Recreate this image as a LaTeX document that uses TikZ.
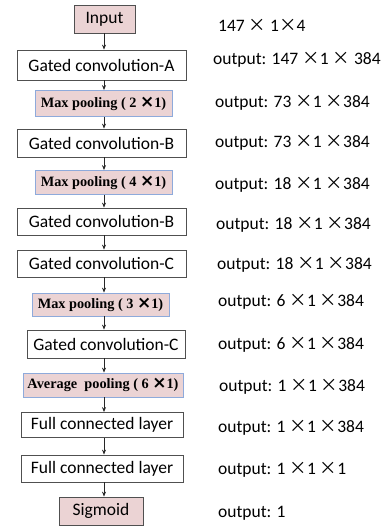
\documentclass[tikz,border=0pt]{standalone}
\usepackage{fontspec}
\setmainfont{Carlito}
\newfontfamily\tnr{Liberation Serif}
\newfontfamily\cjkx{Noto Sans CJK SC}
\newfontfamily\djv{DejaVu Sans}
\usetikzlibrary{arrows.meta}
\definecolor{pinkfill}{HTML}{EBD3D4}
\definecolor{blueedge}{HTML}{8EAADB}
\definecolor{grayedge}{HTML}{505050}
\newcommand{\tx}{{\cjkx ×}}
\newcommand{\bx}{{\djv\bfseries\fontsize{17}{17}\selectfont ×}}
\begin{document}
\begin{tikzpicture}[x=1pt,y=-1pt,
  box/.style={draw=grayedge,line width=0.8pt,fill=white,inner sep=0pt,font=\fontsize{17.5}{20}\selectfont},
  pinkbox/.style={box,fill=pinkfill},
  poolbox/.style={draw=blueedge,line width=0.8pt,fill=pinkfill,inner sep=0pt,font=\tnr\bfseries\fontsize{14.3}{16}\selectfont},
  lab/.style={anchor=west,inner sep=0pt,font=\fontsize{17.5}{20}\selectfont},
  arr/.style={-{Stealth[length=5pt,width=4pt]},line width=0.7pt,draw=black!85}]
\useasboundingbox (0,0) rectangle (385,526);
\coordinate (ax) at (104,0);
% boxes: center x, center y, width, height
\node[pinkbox,minimum width=61pt,minimum height=28pt] (in) at (104.5,19) {Input};
\node[box,minimum width=169pt,minimum height=30pt] (gA) at (101.5,65) {Gated convolution-A};
\node[poolbox,minimum width=137pt,minimum height=26pt] (mp1) at (103.5,103.5) {Max pooling ( 2 \bx1)};
\node[box,minimum width=169pt,minimum height=28pt] (gB1) at (101.5,143) {Gated convolution-B};
\node[poolbox,minimum width=137pt,minimum height=24pt] (mp2) at (103.5,182.5) {Max pooling ( 4 \bx1)};
\node[box,minimum width=169pt,minimum height=27pt] (gB2) at (101.5,221.5) {Gated convolution-B};
\node[box,minimum width=169pt,minimum height=27pt] (gC1) at (101.5,263.5) {Gated convolution-C};
\node[poolbox,minimum width=137pt,minimum height=23pt] (mp3) at (100.5,304.5) {Max pooling ( 3 \bx1)};
\node[box,minimum width=158pt,minimum height=28pt] (gC2) at (106,344) {Gated convolution-C};
\node[poolbox,minimum width=160pt,minimum height=24pt] (ap) at (103,385) {Average\ \ pooling ( 6 \bx1)};
\node[box,minimum width=162pt,minimum height=25pt] (fc1) at (102,425) {Full connected layer};
\node[box,minimum width=162pt,minimum height=27pt] (fc2) at (102,468.5) {Full connected layer};
\node[pinkbox,minimum width=84pt,minimum height=28pt] (sig) at (101,511) {Sigmoid};
% arrows
\foreach \a/\b in {in/gA,gA/mp1,mp1/gB1,gB1/mp2,mp2/gB2,gB2/gC1,gC1/mp3,mp3/gC2,gC2/ap,ap/fc1,fc1/fc2,fc2/sig}
  \draw[arr] (\a.south -| ax) -- (\b.north -| ax);
% labels
\node[lab] (t0) at (218,25) {147 \tx{} 1\tx4};
\node[lab] (t1) at (213,60) {output: 147 \tx1 \tx{} 384};
\node[lab] (t2) at (215,103) {output: 73 \tx1 \tx384};
\node[lab] (t3) at (215,143) {output: 73 \tx1 \tx384};
\node[lab] (t4) at (215,185) {output: 18 \tx1 \tx384};
\node[lab] (t5) at (216,225) {output: 18 \tx1 \tx384};
\node[lab] (t6) at (217,265) {output: 18 \tx1 \tx384};
\node[lab] (t7) at (218,302) {output: 6 \tx1 \tx384};
\node[lab] (t8) at (218,345) {output: 6 \tx1 \tx384};
\node[lab] (t9) at (219,387) {output: 1 \tx1 \tx384};
\node[lab] (t10) at (218,428) {output: 1 \tx1 \tx384};
\node[lab] (t11) at (218,470) {output: 1 \tx1 \tx1};
\node[lab] (t12) at (218,513) {output: 1};
\end{tikzpicture}
\end{document}
